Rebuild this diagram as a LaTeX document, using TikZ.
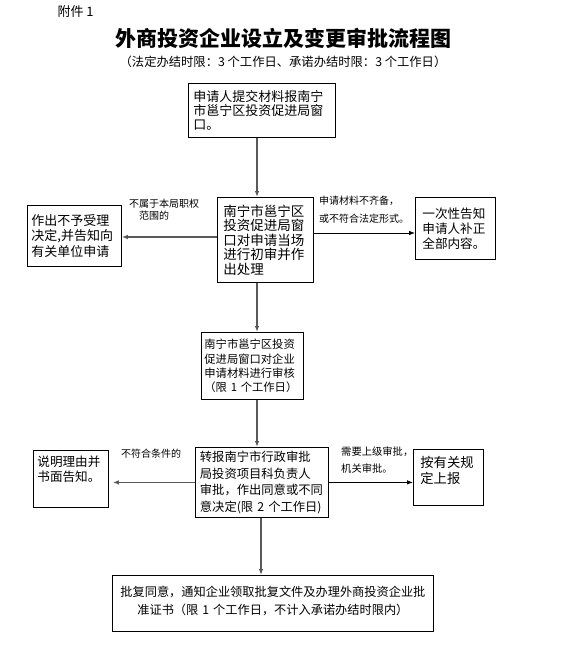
\documentclass[tikz,border=0pt]{standalone}
\usepackage{fontspec}
\setmainfont{Noto Sans CJK SC}
\usetikzlibrary{arrows.meta}

\newcommand{\fsz}[2]{\fontsize{#1}{#2}\selectfont}

\begin{document}
\begin{tikzpicture}[
  x = 1pt, y = -1pt,
  % boxes are placed by their top left corner, at coordinates
  box/.style   = {draw, line width=0.8pt, anchor=north west, align=left, inner ysep=0pt},
  note/.style  = {anchor=north west, align=left, inner sep=0pt, font=\fsz{10}{18}},
  arr/.style   = {draw=black!65, line width=1.1pt, -{Latex[length=6pt,width=4.5pt]}},
]
\useasboundingbox (0, 0) rectangle (567, 655);

% --- heading
\node[anchor=west, font=\fsz{13}{15}] (annex) at (54, 12) {附件 1};
\node[font=\bfseries\fsz{21}{24}] (title) at (283, 38) {外商投资企业设立及变更审批流程图};
\node[font=\fsz{12.3}{15}] (limits) at (283, 62)
  {（法定办结时限：3 个工作日、承诺办结时限：3 个工作日）};

% --- boxes
\node[box, font=\fsz{13}{13.6}, text width=137pt, inner xsep=5pt,
      minimum height=54pt] (apply) at (188, 83)
  {申请人提交材料报南宁\\市邕宁区投资促进局窗\\口。};
\node[box, font=\fsz{13.5}{14.5}, text width=84pt, inner xsep=6pt,
      minimum height=85pt] (check) at (217, 197)
  {南宁市邕宁区\\投资促进局窗\\口对申请当场\\进行初审并作\\出处理};
\node[box, font=\fsz{13}{15.5}, text width=86pt, inner xsep=4pt,
      minimum height=61pt] (refuse) at (27, 205)
  {作出不予受理\\决定,并告知向\\有关单位申请};
\node[box, font=\fsz{12.6}{15}, text width=66pt, inner xsep=7pt,
      minimum height=62pt] (supply) at (415, 197)
  {一次性告知\\申请人补正\\全部内容。};
\node[box, font=\fsz{11.3}{14.3}, text width=96pt, inner xsep=3pt,
      minimum height=67pt] (review) at (201, 332)
  {南宁市邕宁区投资\\促进局窗口对企业\\申请材料进行审核\\\mbox{（限~1~个工作日）}};
\node[box, font=\fsz{12.3}{16.5}, text width=124pt, inner xsep=4.5pt,
      minimum height=70pt] (approve) at (195, 447)
  {转报南宁市行政审批\\局投资项目科负责人\\审批，作出同意或不同\\\mbox{意决定(限~2~个工作日)}};
\node[box, font=\fsz{12.6}{15.5}, text width=67pt, inner xsep=4pt,
      inner ysep=6pt, text height=10pt, text depth=35pt] (reason) at (33, 450)
  {说明理由并\\书面告知。};
\node[box, font=\fsz{13.3}{16}, text width=56pt, inner xsep=7pt,
      inner ysep=7pt, text height=11pt, text depth=31pt] (upper) at (413, 449)
  {按有关规\\定上报};
\node[box, font=\fsz{12.2}{18}, align=center, text width=305pt, inner xsep=8pt,
      inner ysep=9pt, text height=12pt, text depth=26pt] (permit) at (112, 575)
  {批复同意，通知企业领取批复文件及办理外商投资企业批\\准证书（限~1~个工作日，不计入承诺办结时限内）};

% --- connector labels
\node[note, font=\fsz{10}{12}] (outside) at (129, 199) {不属于本局职权\\\hspace*{1em}范围的};
\node[note] (missing) at (319, 196) {申请材料不齐备，\\或不符合法定形式。};
\node[note] (unfit) at (121, 449) {不符合条件的};
\node[note, font=\fsz{10.3}{17}] (higher) at (341, 447) {需要上级审批，\\机关审批。};

% --- connectors
\coordinate (spine) at (257, 0);
\coordinate (rowL) at (0, 237);
\coordinate (rowR) at (0, 233);
\draw[arr] (apply.south -| spine) -- (check.north -| spine);
\draw[arr] (check.south -| spine) -- (review.north -| spine);
\draw[arr] (review.south -| spine) -- (approve.north -| spine);
\draw[arr] ([xshift=4pt]approve.south -| spine) -- ([xshift=4pt]permit.north -| spine);
\draw[arr] (check.west |- rowL) -- (refuse.east |- rowL);
\draw[arr, draw=black, line width=0.8pt] (check.east |- rowR) -- (supply.west |- rowR);
\draw[arr, shorten >=4pt] (approve.west) -- (approve.west -| reason.east);
\draw[arr, draw=black, line width=0.8pt] (approve.east) -- (approve.east -| upper.west);

\end{tikzpicture}
\end{document}
